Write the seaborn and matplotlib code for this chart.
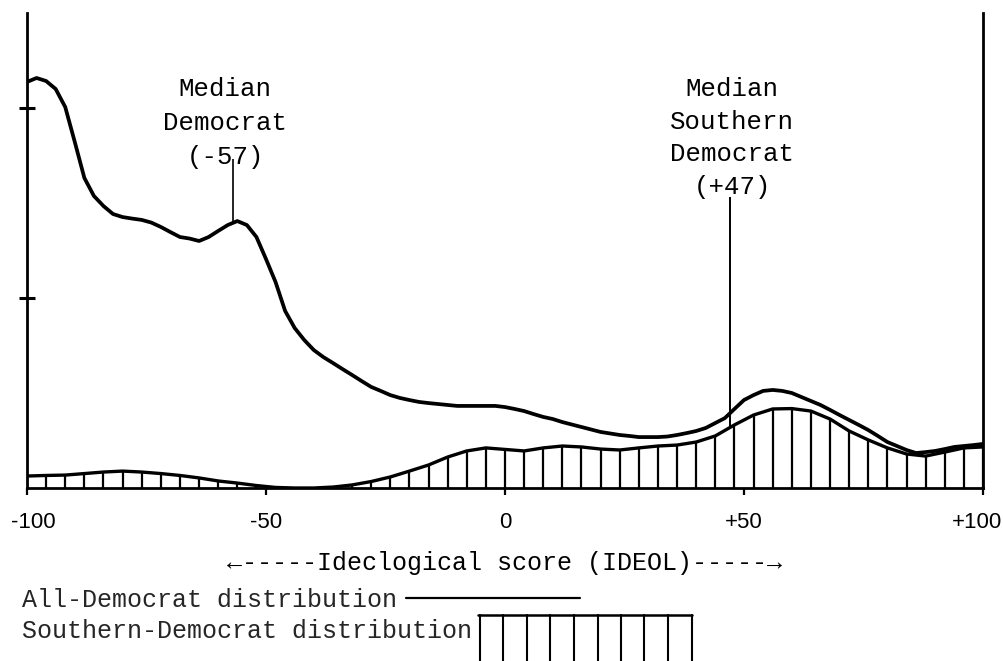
import numpy as np
import pandas as pd
import matplotlib
matplotlib.use('Agg')
import matplotlib.pyplot as plt
from matplotlib.lines import Line2D
from matplotlib.transforms import ScaledTranslation
import seaborn as sns

# ideological score grids
all_scores = list(range(-100, 101, 2))
south_scores = list(range(-100, 101, 4))   # one hatch stroke per sample

# density heights (left-axis ticks at 1 and 2)
all_dem = [2.137, 2.158, 2.142, 2.100, 2.005, 1.821, 1.632, 1.537, 1.484, 1.442,
           1.426, 1.418, 1.411, 1.397, 1.374, 1.347, 1.321, 1.313, 1.300, 1.321,
           1.353, 1.384, 1.405, 1.384, 1.321, 1.205, 1.084, 0.932, 0.842, 0.779,
           0.726, 0.689, 0.658, 0.626, 0.595, 0.563, 0.532, 0.511, 0.489, 0.474,
           0.463, 0.453, 0.447, 0.442, 0.437, 0.432, 0.432, 0.432, 0.432, 0.432,
           0.426, 0.416, 0.405, 0.389, 0.374, 0.363, 0.347, 0.334, 0.321, 0.308,
           0.295, 0.287, 0.279, 0.274, 0.268, 0.268, 0.268, 0.271, 0.279, 0.289,
           0.300, 0.316, 0.342, 0.368, 0.416, 0.463, 0.489, 0.511, 0.516, 0.511,
           0.500, 0.479, 0.458, 0.437, 0.411, 0.384, 0.358, 0.332, 0.305, 0.274,
           0.242, 0.221, 0.200, 0.184, 0.189, 0.195, 0.205, 0.216, 0.221, 0.226,
           0.232]
southern_dem = [0.063, 0.066, 0.068, 0.076, 0.084, 0.089, 0.084, 0.076, 0.066, 0.053,
                0.037, 0.026, 0.013, 0.003, 0.0, 0.0, 0.005, 0.016, 0.034, 0.058,
                0.089, 0.121, 0.163, 0.195, 0.211, 0.203, 0.195, 0.211, 0.221, 0.216,
                0.205, 0.200, 0.211, 0.221, 0.226, 0.242, 0.274, 0.332, 0.384, 0.416,
                0.418, 0.405, 0.363, 0.300, 0.253, 0.211, 0.179, 0.168, 0.189, 0.211,
                0.216]

x_ticks = [-100, -50, 0, 50, 100]
x_tick_labels = ['-100', '-50', '0', '+50', '+100']

median_dem = -57
median_south = 47
dem_label = ['Median', 'Democrat', '(-57)']
south_label = ['Median', 'Southern', 'Democrat', '(+47)']

df_all = pd.DataFrame({'score': all_scores, 'density': all_dem})
df_south = pd.DataFrame({'score': south_scores, 'density': southern_dem})

sns.set_style('ticks')
plt.rcParams['font.family'] = ['Liberation Mono', 'DejaVu Sans Mono']

W, H = 1004, 661
fig = plt.figure(figsize=(W / 100, H / 100), dpi=100)
fig.patch.set_facecolor('white')
ax = fig.add_axes([27 / W, 1 - 488 / H, 956 / W, 475 / H])

# southern democrats: hatched area
ax.vlines(df_south['score'], 0, df_south['density'], color='black', linewidth=1.6)
sns.lineplot(data=df_south, x='score', y='density', color='black', linewidth=2.4,
             solid_joinstyle='round', ax=ax)
# all democrats
sns.lineplot(data=df_all, x='score', y='density', color='black', linewidth=2.7,
             solid_joinstyle='round', solid_capstyle='round', ax=ax)

# median markers
ax.vlines(median_dem, np.interp(median_dem, all_scores, all_dem), 1.73,
          color='black', linewidth=1.2)
ax.vlines(median_south, np.interp(median_south, south_scores, southern_dem), 1.53,
          color='black', linewidth=1.4)
for i, line in enumerate(dem_label):
    ax.text(median_dem - 1.5, 2.10 - i * 0.178, line, ha='center', va='center',
            fontsize=18.5, color='black')
for i, line in enumerate(south_label):
    ax.text(median_south + 0.5, 2.10 - i * 0.172, line, ha='center', va='center',
            fontsize=18.5, color='black')

ax.set_xlim(-100, 100)
ax.set_ylim(0, 2.5)
ax.set_xticks(x_ticks)
ax.set_xticklabels(x_tick_labels, fontsize=16, family='Liberation Sans')
ax.set_yticks([1, 2])
ax.set_yticklabels([])
ax.tick_params(axis='x', direction='out', length=5, width=1.6, pad=12, colors='black')
ax.tick_params(axis='y', direction='inout', length=12, width=2.2, colors='black')
ax.set_xlabel('\u2190-----Ideclogical score (IDEOL)-----\u2192', fontsize=18,
              labelpad=13, color='black')
ax.set_ylabel('')

# end labels sit a little inside the frame, as in the scan
labels = ax.get_xticklabels()
for lab, dx in [(labels[0], 6), (labels[-1], -6)]:
    lab.set_transform(lab.get_transform() + ScaledTranslation(dx / 100, 0, fig.dpi_scale_trans))

for side in ['left', 'right', 'bottom']:
    ax.spines[side].set_visible(True)
    ax.spines[side].set_color('black')
    ax.spines[side].set_linewidth(2.0)
ax.spines['top'].set_visible(False)
ax.set_facecolor('white')

# hand-drawn legend under the axis
def px(x, y):
    return x / W, 1 - y / H

fig.text(*px(22, 600), 'All-Democrat distribution', fontsize=18, va='center')
fig.text(*px(22, 631), 'Southern-Democrat distribution', fontsize=18, va='center')
fig.add_artist(Line2D(*zip(px(406, 598), px(580, 598)), color='black', linewidth=1.6))
fig.add_artist(Line2D(*zip(px(478, 615), px(692, 615)), color='black', linewidth=1.8))
for k in range(10):
    xk = 480 + k * 23.5
    fig.add_artist(Line2D(*zip(px(xk, 615), px(xk, 661)), color='black', linewidth=1.5))

plt.savefig('out.png', dpi=100, facecolor='white')
plt.close()
